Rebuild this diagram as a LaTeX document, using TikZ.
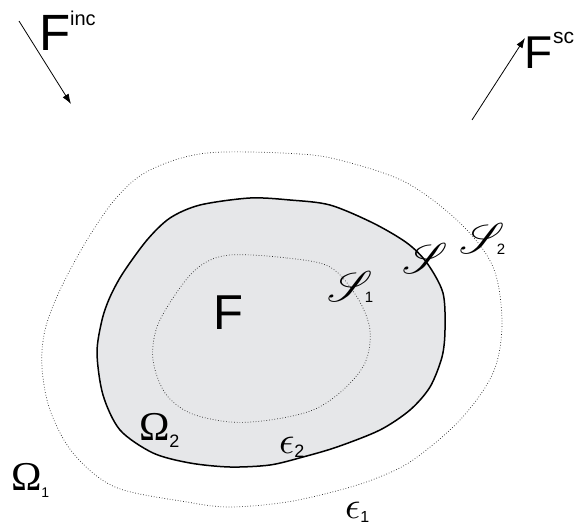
\documentclass[tikz,border=0pt]{standalone}
\usepackage{graphicx}
\usepackage{mathrsfs}
\usepackage{fontspec}
\setmainfont{Liberation Sans}
\newfontfamily\timesf{Liberation Serif}
\usetikzlibrary{arrows.meta}
\definecolor{shapegray}{HTML}{E6E7E9}
\newcommand\fsz[1]{\fontsize{#1}{#1}\selectfont}
\newcommand\scrS{{\fsz{10}\scalebox{4.3}{$\mathscr{S}$}}}
\newcommand\bigeps{{\fsz{10}\scalebox{3.8}{$\epsilon$}}}
\tikzset{
  boundary/.style={draw=black, line width=1.5pt, fill=shapegray},
  dotline/.style={draw=black!85, line width=0.7pt, dash pattern=on 0.7pt off 2pt},
  wave/.style={draw=black, line width=0.8pt, -{Latex[length=10pt,width=7pt]}},
  lbl/.style={inner sep=0pt, outer sep=0pt, text=black}
}
\begin{document}
\begin{tikzpicture}[x=1pt,y=-1pt]
\useasboundingbox (0,0) rectangle (581,530);
% outer dotted S2
\draw[dotline] plot[smooth cycle, tension=0.55] coordinates {
 (300,154) (347,162) (407,183) (460,223) (493,267) (502,323) (493,373) (460,420)
 (413,460) (377,478) (340,490) (287,502) (230,507) (187,502) (115,487) (73,453)
 (50,410) (42,367) (45,330) (60,290) (87,240) (117,197) (150,170) (207,153)};
% solid boundary S
\draw[boundary] plot[smooth cycle, tension=0.5] coordinates {
 (250,198) (290,200) (330,205) (373,223) (407,243) (427,263) (443,293) (445,330)
 (442,357) (430,387) (410,410) (380,430) (337,447) (303,457) (270,465) (230,467)
 (190,463) (153,453) (120,430) (103,395) (97,353) (102,320) (110,297) (123,273)
 (147,240) (170,218) (200,205)};
% inner dotted S1
\draw[dotline] plot[smooth cycle, tension=0.55] coordinates {
 (230,255) (287,258) (330,267) (357,297) (370,330) (365,363) (343,390) (313,410)
 (270,420) (230,422) (190,413) (165,393) (153,360) (157,327) (177,292) (200,266)};
% arrows
\coordinate (inA) at (19,21);
\coordinate (inB) at (71,104);
\coordinate (scA) at (472,120);
\coordinate (scB) at (525,38);
\draw[wave] (inA) -- (inB);
\draw[wave] (scA) -- (scB);
% labels
\node[lbl, anchor=base west] (finc) at (39,50) {\fsz{51}F\raisebox{25pt}{\fsz{20}inc}};
\node[lbl, anchor=base west] (fsc) at (524,68) {\fsz{46}F\hspace{1pt}\raisebox{25pt}{\fsz{21}sc}};
\node[lbl] (fmid) at (228,313) {\fsz{49}F};
\node[lbl] (sS) at (425,258) {\scrS};
\node[lbl] (sS1) at (350,287) {\scrS\rlap{\hspace{-8pt}\raisebox{-1pt}{\fsz{15}1}}};
\node[lbl] (sS2) at (482,239) {\scrS\rlap{\hspace{-8pt}\raisebox{-1pt}{\fsz{15}2}}};
\node[lbl, anchor=base west] (om1) at (11,490) {{\timesf\fsz{41}Ω}\raisebox{-7pt}{\fsz{14}1}};
\node[lbl, anchor=base west] (om2) at (139,440) {{\timesf\fsz{41}Ω}\raisebox{-7pt}{\fsz{18}2}};
\node[lbl, anchor=base west] (ep2) at (279,453) {\bigeps\raisebox{-4pt}{\fsz{18}2}};
\node[lbl, anchor=base west] (ep1) at (345,518) {\bigeps\raisebox{-4pt}{\fsz{16}1}};
\end{tikzpicture}
\end{document}
